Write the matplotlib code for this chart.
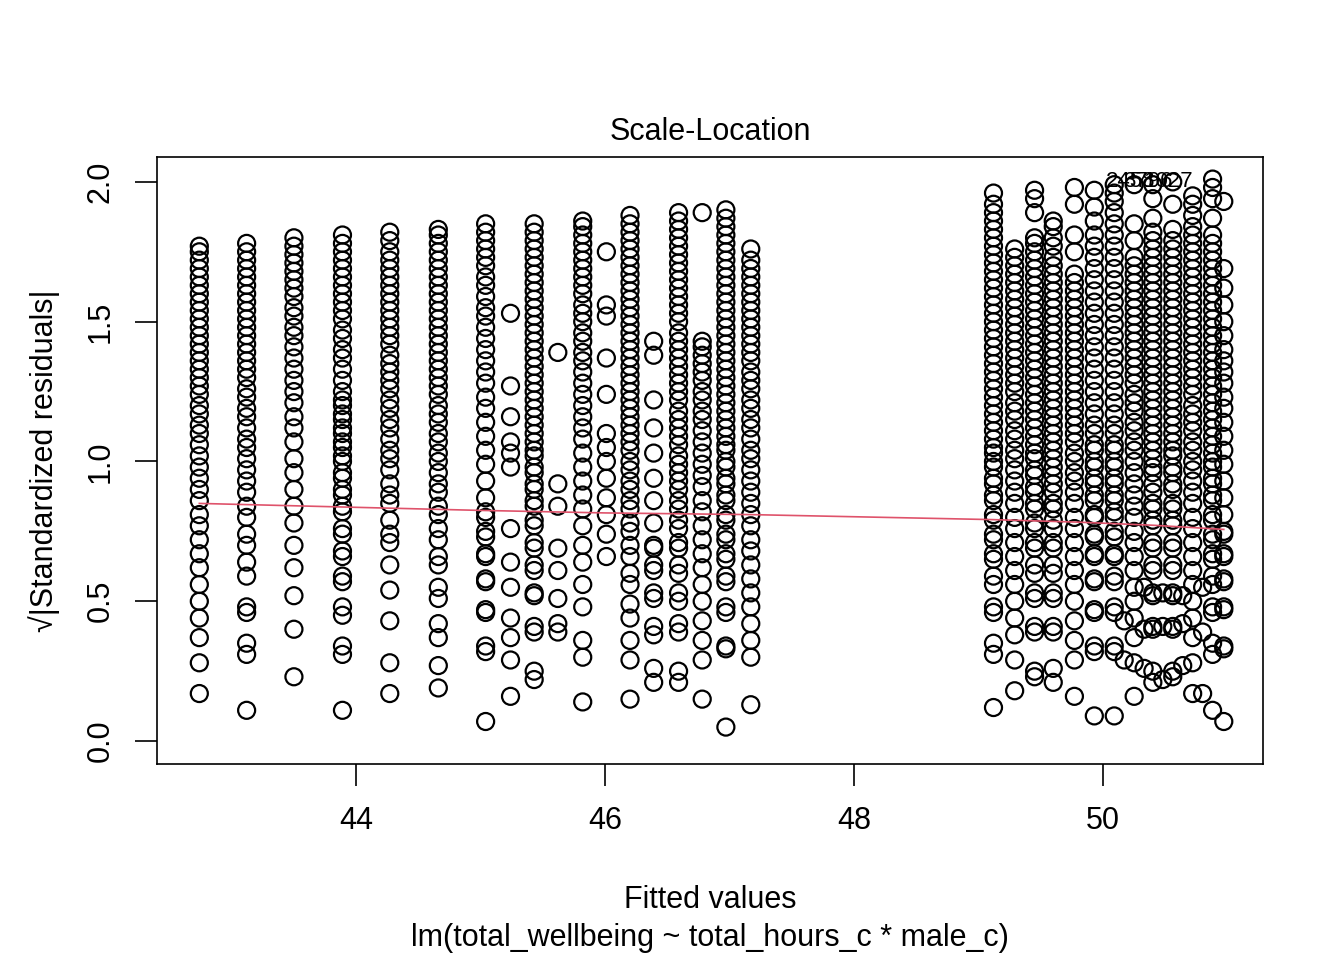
import numpy as np
import matplotlib.pyplot as plt

plt.rcParams['font.family'] = ['Liberation Sans', 'DejaVu Sans']

# fitted value of each column
fitted = [42.74, 43.12, 43.50, 43.89, 44.27, 44.66, 45.04, 45.24, 45.43, 45.62,
          45.82, 46.01, 46.20, 46.39, 46.59, 46.78, 46.97, 47.17,
          49.12, 49.29, 49.45, 49.60, 49.77, 49.93, 50.09, 50.25, 50.40,
          50.56, 50.72, 50.88, 50.97]

# sqrt(|standardized residuals|) for each column
c01 = [0.17,0.28,0.37,0.44,0.50,0.56,0.62,0.67,0.72,0.77,0.81,0.86,0.90,0.94,0.98,1.02,1.06,1.10,1.13,1.17,1.20,1.24,1.27,1.30,1.33,1.36,1.39,1.42,1.45,1.48,1.51,1.54,1.57,1.60,1.63,1.66,1.69,1.72,1.75,1.77]
c02 = [0.11,0.31,0.35,0.46,0.48,0.59,0.64,0.70,0.74,0.80,0.84,0.89,0.93,0.97,1.01,1.05,1.08,1.12,1.16,1.19,1.23,1.26,1.30,1.33,1.36,1.39,1.42,1.45,1.48,1.51,1.54,1.57,1.60,1.63,1.66,1.69,1.72,1.75,1.78]
c03 = [0.23,0.40,0.52,0.62,0.70,0.78,0.84,0.90,0.96,1.01,1.07,1.12,1.16,1.21,1.25,1.29,1.33,1.37,1.41,1.45,1.48,1.52,1.55,1.59,1.62,1.65,1.68,1.71,1.74,1.77,1.80]
c04 = [0.11,0.31,0.34,0.45,0.48,0.57,0.59,0.66,0.68,0.74,0.76,0.82,0.84,0.88,0.90,0.94,0.96,1.00,1.02,1.05,1.07,1.10,1.12,1.15,1.17,1.20,1.22,1.25,1.29,1.33,1.37,1.40,1.44,1.47,1.51,1.54,1.57,1.60,1.63,1.66,1.69,1.72,1.75,1.78,1.81]
c05 = [0.17,0.28,0.43,0.54,0.63,0.71,0.74,0.79,0.85,0.88,0.92,0.97,1.01,1.04,1.08,1.12,1.15,1.19,1.22,1.26,1.29,1.32,1.35,1.38,1.42,1.45,1.48,1.51,1.54,1.57,1.60,1.63,1.66,1.69,1.72,1.75,1.79,1.82]
c06 = [0.19,0.27,0.37,0.42,0.51,0.55,0.63,0.66,0.72,0.76,0.81,0.84,0.89,0.92,0.96,1.00,1.03,1.07,1.10,1.14,1.17,1.20,1.24,1.27,1.30,1.33,1.36,1.39,1.42,1.45,1.48,1.51,1.54,1.57,1.60,1.63,1.66,1.69,1.72,1.75,1.78,1.81,1.83]
c07 = [0.07,0.32,0.34,0.46,0.47,0.57,0.58,0.66,0.67,0.73,0.75,0.80,0.82,0.87,0.93,0.99,1.04,1.09,1.14,1.19,1.23,1.28,1.32,1.36,1.40,1.44,1.48,1.52,1.55,1.59,1.63,1.66,1.70,1.73,1.76,1.79,1.82,1.85]
c08 = [0.16,0.29,0.37,0.44,0.55,0.64,0.76,0.98,1.03,1.07,1.16,1.27,1.53]
c09 = [0.22,0.25,0.39,0.41,0.52,0.53,0.61,0.63,0.69,0.71,0.77,0.79,0.84,0.86,0.90,0.92,0.96,0.98,1.02,1.04,1.07,1.10,1.13,1.16,1.19,1.22,1.25,1.28,1.31,1.34,1.37,1.40,1.43,1.46,1.49,1.52,1.55,1.58,1.61,1.64,1.67,1.70,1.73,1.76,1.79,1.82,1.85]
c10 = [0.39,0.42,0.51,0.61,0.69,0.84,0.92,1.39]
c11 = [0.14,0.30,0.36,0.48,0.56,0.64,0.70,0.77,0.83,0.88,0.93,0.98,1.03,1.08,1.12,1.16,1.20,1.24,1.28,1.32,1.36,1.39,1.43,1.46,1.50,1.53,1.56,1.60,1.63,1.66,1.69,1.72,1.75,1.78,1.81,1.84,1.86]
c12 = [0.66,0.74,0.81,0.87,0.94,1.00,1.05,1.10,1.24,1.37,1.52,1.56,1.75]
c13 = [0.15,0.29,0.36,0.44,0.49,0.56,0.60,0.66,0.70,0.75,0.78,0.83,0.86,0.90,0.93,0.97,1.00,1.04,1.07,1.10,1.13,1.16,1.19,1.22,1.25,1.28,1.31,1.34,1.37,1.40,1.43,1.46,1.49,1.52,1.55,1.58,1.61,1.64,1.67,1.70,1.73,1.76,1.79,1.82,1.85,1.88]
c14 = [0.21,0.26,0.38,0.41,0.51,0.53,0.61,0.63,0.69,0.70,0.78,0.86,0.94,1.03,1.12,1.22,1.38,1.43]
c15 = [0.21,0.25,0.39,0.42,0.50,0.53,0.60,0.63,0.69,0.71,0.76,0.79,0.83,0.86,0.90,0.93,0.96,0.99,1.02,1.06,1.09,1.12,1.15,1.18,1.22,1.25,1.28,1.31,1.34,1.37,1.40,1.43,1.46,1.50,1.53,1.56,1.59,1.62,1.65,1.68,1.71,1.74,1.77,1.80,1.83,1.86,1.89]
c16 = [0.15,0.29,0.36,0.43,0.50,0.56,0.62,0.67,0.72,0.77,0.82,0.86,0.91,0.95,0.99,1.03,1.07,1.11,1.15,1.18,1.22,1.25,1.29,1.32,1.35,1.38,1.41,1.43,1.89]
c17 = [0.05,0.33,0.34,0.46,0.48,0.57,0.59,0.65,0.67,0.72,0.74,0.79,0.81,0.86,0.88,0.92,0.94,0.98,1.00,1.04,1.06,1.09,1.12,1.15,1.18,1.21,1.24,1.27,1.30,1.33,1.36,1.39,1.42,1.45,1.48,1.51,1.54,1.57,1.60,1.63,1.66,1.69,1.72,1.75,1.78,1.81,1.84,1.87,1.90]
c18 = [0.13,0.30,0.36,0.42,0.48,0.53,0.58,0.63,0.68,0.72,0.77,0.81,0.85,0.89,0.93,0.97,1.01,1.04,1.08,1.12,1.15,1.19,1.22,1.26,1.29,1.32,1.36,1.39,1.42,1.45,1.48,1.51,1.54,1.57,1.60,1.63,1.66,1.69,1.72,1.76]
c19 = [0.12,0.31,0.35,0.46,0.48,0.56,0.59,0.65,0.67,0.72,0.74,0.79,0.81,0.86,0.88,0.92,0.94,0.98,1.00,1.03,1.05,1.08,1.11,1.14,1.17,1.20,1.23,1.26,1.29,1.32,1.35,1.38,1.41,1.44,1.47,1.50,1.53,1.56,1.59,1.62,1.65,1.68,1.71,1.74,1.77,1.80,1.83,1.86,1.89,1.92,1.96]
c20 = [0.18,0.29,0.38,0.44,0.50,0.56,0.61,0.66,0.71,0.76,0.80,0.85,0.89,0.93,0.97,1.01,1.04,1.08,1.11,1.15,1.18,1.21,1.25,1.28,1.31,1.34,1.37,1.40,1.43,1.46,1.49,1.52,1.55,1.58,1.61,1.64,1.67,1.70,1.73,1.76]
c21 = [0.23,0.25,0.39,0.41,0.51,0.53,0.60,0.63,0.69,0.71,0.76,0.78,0.83,0.85,0.89,0.91,0.95,0.97,1.01,1.03,1.06,1.09,1.12,1.15,1.18,1.21,1.24,1.27,1.30,1.33,1.36,1.39,1.42,1.45,1.48,1.51,1.54,1.57,1.60,1.63,1.66,1.69,1.72,1.75,1.78,1.80,1.89,1.94,1.97]
c22 = [0.21,0.26,0.39,0.41,0.51,0.53,0.60,0.63,0.69,0.71,0.76,0.79,0.83,0.85,0.89,0.92,0.95,0.98,1.01,1.04,1.07,1.10,1.13,1.16,1.19,1.22,1.25,1.28,1.31,1.34,1.37,1.40,1.43,1.46,1.49,1.52,1.55,1.58,1.61,1.64,1.67,1.70,1.73,1.77,1.80,1.84,1.86]
c23 = [0.16,0.29,0.36,0.43,0.50,0.56,0.61,0.66,0.71,0.76,0.80,0.85,0.89,0.93,0.96,1.00,1.03,1.07,1.10,1.13,1.16,1.19,1.22,1.25,1.28,1.31,1.34,1.37,1.40,1.43,1.46,1.49,1.52,1.55,1.58,1.61,1.64,1.67,1.75,1.81,1.92,1.98]
c24 = [0.09,0.32,0.34,0.46,0.47,0.57,0.58,0.66,0.67,0.73,0.74,0.80,0.81,0.86,0.88,0.92,0.94,0.98,1.00,1.04,1.06,1.10,1.13,1.17,1.21,1.25,1.29,1.33,1.37,1.41,1.45,1.49,1.53,1.57,1.61,1.65,1.69,1.73,1.77,1.81,1.86,1.91,1.97]
c25 = [0.09,0.32,0.34,0.46,0.48,0.57,0.59,0.66,0.67,0.73,0.75,0.80,0.82,0.86,0.88,0.92,0.94,0.98,1.00,1.04,1.06,1.10,1.13,1.17,1.21,1.25,1.29,1.33,1.37,1.41,1.45,1.49,1.53,1.57,1.61,1.65,1.69,1.73,1.77,1.81,1.85,1.89,1.93,1.96,1.99]
c26 = [0.16,0.28,0.37,0.44,0.50,0.55,0.61,0.66,0.71,0.75,0.80,0.84,0.88,0.92,0.96,1.00,1.04,1.07,1.11,1.14,1.18,1.21,1.24,1.28,1.31,1.34,1.37,1.40,1.43,1.46,1.49,1.52,1.55,1.58,1.61,1.64,1.67,1.70,1.73,1.79,1.85,1.99]
c27 = [0.21,0.25,0.40,0.41,0.52,0.53,0.61,0.63,0.69,0.71,0.77,0.79,0.83,0.85,0.89,0.92,0.96,0.98,1.01,1.04,1.07,1.10,1.13,1.16,1.19,1.22,1.25,1.28,1.31,1.34,1.37,1.40,1.43,1.46,1.49,1.52,1.55,1.58,1.61,1.64,1.67,1.70,1.73,1.76,1.79,1.82,1.87,1.94,1.99]
c28 = [0.23,0.25,0.40,0.41,0.52,0.53,0.61,0.63,0.69,0.71,0.77,0.79,0.83,0.85,0.90,0.92,0.96,0.98,1.02,1.04,1.07,1.10,1.13,1.16,1.19,1.22,1.25,1.28,1.31,1.34,1.37,1.40,1.43,1.46,1.49,1.52,1.55,1.58,1.61,1.64,1.67,1.70,1.73,1.76,1.79,1.83,1.92,2.00]
c29 = [0.17,0.28,0.37,0.44,0.50,0.56,0.61,0.66,0.71,0.76,0.80,0.85,0.89,0.93,0.97,1.00,1.04,1.07,1.11,1.14,1.17,1.20,1.24,1.27,1.30,1.33,1.36,1.39,1.42,1.45,1.48,1.51,1.54,1.57,1.60,1.63,1.66,1.69,1.72,1.75,1.78,1.81,1.84,1.88,1.92,1.95]
c30 = [0.11,0.31,0.35,0.46,0.48,0.56,0.59,0.65,0.67,0.72,0.74,0.79,0.81,0.86,0.88,0.92,0.94,0.98,1.00,1.03,1.06,1.09,1.12,1.15,1.18,1.21,1.24,1.27,1.30,1.33,1.36,1.39,1.42,1.45,1.48,1.51,1.54,1.57,1.60,1.63,1.66,1.69,1.72,1.75,1.78,1.81,1.87,1.94,1.98,2.01]
c31 = [0.07,0.33,0.34,0.47,0.48,0.57,0.58,0.66,0.67,0.74,0.75,0.81,0.87,0.93,0.99,1.04,1.09,1.14,1.19,1.23,1.28,1.32,1.36,1.40,1.45,1.50,1.56,1.62,1.69,1.93]
columns = [c01, c02, c03, c04, c05, c06, c07, c08, c09, c10, c11, c12, c13, c14, c15, c16,
           c17, c18, c19, c20, c21, c22, c23, c24, c25, c26, c27, c28, c29, c30, c31]

# a few points between the right-hand columns (the sloped tails)
tail_x = [50.17, 50.33, 50.48, 50.64, 50.80, 50.17, 50.33, 50.48, 50.64, 50.80, 50.33, 50.48, 50.64, 50.80]
tail_y = [0.29, 0.26, 0.22, 0.27, 0.17, 0.43, 0.40, 0.41, 0.42, 0.39, 0.55, 0.53, 0.52, 0.55]

# lowess smooth
smooth_x = [42.74, 44.0, 45.0, 46.0, 47.17, 49.12, 49.8, 50.4, 50.97]
smooth_y = [0.850, 0.836, 0.825, 0.816, 0.810, 0.792, 0.783, 0.772, 0.757]

# labelled extreme points (they overlap in the original too)
lab_x = [50.22, 50.36, 50.52]
lab_y = [2.00, 2.00, 2.00]
lab_txt = ["2458", "3796", "1027"]

xs = np.concatenate([[f] * len(c) for f, c in zip(fitted, columns)] + [tail_x])
ys = np.concatenate(columns + [tail_y])

fig = plt.figure(figsize=(13.44, 9.6), dpi=100)
ax = fig.add_axes([157 / 1344, 1 - 764 / 960, (1263 - 157) / 1344, (764 - 157) / 960])
ax.scatter(xs, ys, s=150, facecolors='none', edgecolors='black', linewidths=1.6)
ax.plot(smooth_x, smooth_y, color='#DF536B', lw=1.2)
for tx, ty, tt in zip(lab_x, lab_y, lab_txt):
    ax.text(tx, ty, tt, fontsize=16, ha='center', va='center')

ax.set_xlim(42.40, 51.285)
ax.set_ylim(-0.082, 2.089)
ax.set_xticks([44, 46, 48, 50])
ax.set_yticks([0.0, 0.5, 1.0, 1.5, 2.0])
ax.set_yticklabels(["0.0", "0.5", "1.0", "1.5", "2.0"], rotation=90, va='center')
ax.tick_params(labelsize=22, length=16, width=1.2, pad=14)
for sp in ax.spines.values():
    sp.set_linewidth(1.2)
ax.set_title("Scale-Location", fontsize=22, pad=12)
ax.set_ylabel("√|Standardized residuals|", fontsize=22, labelpad=18)
fig.text(710 / 1344, 1 - 900 / 960, "Fitted values", fontsize=22, ha='center', va='center')
fig.text(710 / 1344, 1 - 938 / 960, "lm(total_wellbeing ~ total_hours_c * male_c)",
         fontsize=22, ha='center', va='center')

fig.savefig("out.png", dpi=100)
